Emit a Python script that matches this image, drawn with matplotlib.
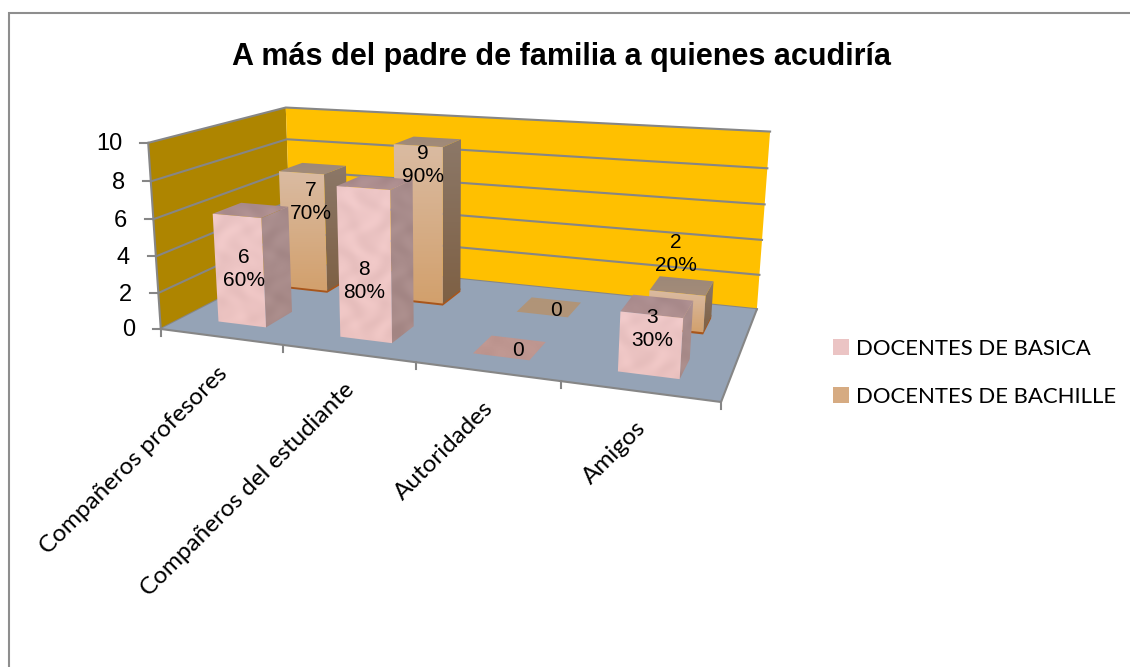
import numpy as np
import matplotlib
matplotlib.use("Agg")
import matplotlib.pyplot as plt
from matplotlib.patches import Polygon, Patch
from matplotlib.colors import to_rgb

categories = ["Compañeros profesores", "Compañeros del estudiante", "Autoridades", "Amigos"]
series_names = ["DOCENTES DE BASICA", "DOCENTES DE BACHILLE"]
basica = [6, 8, 0, 3]
bachille = [7, 9, 0, 2]
basica_pct = ["60%", "80%", None, "30%"]
bachille_pct = ["70%", "90%", None, "20%"]
value_ticks = [0, 2, 4, 6, 8, 10]
title = "A más del padre de familia a quienes acudiría"

W, H = 1130, 667
# camera calibration: (category, depth, value) -> figure pixel
cal_3d = [(0,0,0),(4,0,0),(0,2,0),(4,2,0),(0,0,10),(0,2,10),(4,2,10)]
cal_px = [(161,328),(721,403),(291,263),(757,308),(148,143),(286,107),(770,132)]

def fit_camera(P, p):
    A = []; b = []
    for (X,Y,Z),(u,v) in zip(P,p):
        A.append([X,Y,Z,1,0,0,0,0,-u*X,-u*Y,-u*Z]); b.append(u)
        A.append([0,0,0,0,X,Y,Z,1,-v*X,-v*Y,-v*Z]); b.append(v)
    return np.append(np.linalg.lstsq(np.array(A,float),np.array(b,float),rcond=None)[0],1).reshape(3,4)
CAM = fit_camera(cal_3d, cal_px)

def proj(x, y, z):
    q = CAM @ np.array([x, y, z, 1.0])
    return q[0]/q[2], q[1]/q[2]

fig = plt.figure(figsize=(W/100, H/100), dpi=100)
ax = fig.add_axes([0,0,1,1])
ax.set_xlim(0, W); ax.set_ylim(H, 0); ax.axis("off")

# outer frame (only its top and left edges fall inside the picture)
ax.plot([9, 9, W], [H, 13, 13], color="#8E8E8E", lw=1.5, solid_joinstyle="miter")

GRID = "#868686"
def poly(pts, fc, z=1, **kw):
    p = Polygon([proj(*a) for a in pts], closed=True, fc=fc, ec=kw.pop("ec","none"), lw=kw.pop("lw",0), zorder=z, **kw)
    ax.add_patch(p); return p

# walls and floor
poly([(0,0,0),(0,2,0),(0,2,10),(0,0,10)], "#AE8500")
poly([(0,2,0),(4,2,0),(4,2,10),(0,2,10)], "#FFC000")
for v in value_ticks:
    a, b, c = proj(0,0,v), proj(0,2,v), proj(4,2,v)
    ax.plot([a[0],b[0],c[0]],[a[1],b[1],c[1]], color=GRID, lw=1.5, zorder=2, solid_joinstyle="miter")
ax.plot(*zip(proj(0,0,0),proj(0,0,10)), color=GRID, lw=1.5, zorder=2)
poly([(0,0,0),(4,0,0),(4,2,0),(0,2,0)], "#95A3B6", z=3)
ax.plot(*zip(proj(0,0,0),proj(4,0,0),proj(4,2,0)), color=GRID, lw=1.5, zorder=3)

# axis ticks
for v in value_ticks:
    x, y = proj(0,0,v)
    ax.plot([x-8, x],[y, y], color=GRID, lw=1.5, zorder=3)
    ax.text(x-26, y+1.5, str(v), ha="right", va="center", family="Liberation Sans", fontsize=17, zorder=9)
for i in range(5):
    x, y = proj(i,0,0)
    ax.plot([x, x],[y, y+7], color=GRID, lw=1.5, zorder=3)
for i, c in enumerate(categories):
    x, y = proj(i+0.5,0,0)
    ax.text(x-4, y+26, c, rotation=45, rotation_mode="anchor", ha="right", va="top", family="Lato", fontsize=17.5, zorder=9)

def shade(pts, top, bottom, z, tex=0.0):
    pp = np.array([proj(*a) for a in pts])
    x0,y0 = np.floor(pp.min(0)); x1,y1 = np.ceil(pp.max(0))
    nx, ny = int(max(x1-x0,1)), int(max(y1-y0,1))
    yy, xx = np.mgrid[0:ny,0:nx]
    t = (yy+0.5)/ny
    c = np.array(to_rgb(top))[None,None,:]*(1-t[...,None]) + np.array(to_rgb(bottom))[None,None,:]*t[...,None]
    if tex:
        X = xx + x0; Y = yy + y0
        n = (np.sin(X/5.1+np.sin(Y/7.3)*2.5)+np.sin(Y/6.3+np.sin(X/8.7)*2.5))/2
        c = np.clip(c+tex*n[...,None],0,1)
    im = ax.imshow(c, extent=(x0,x1,y1,y0), zorder=z, aspect="auto", interpolation="bilinear")
    im.set_clip_path(Polygon(pp, closed=True, transform=ax.transData))
    ax.set_xlim(0, W); ax.set_ylim(H, 0)

BW = 0.4
def bar(i, s, val, z, kind):
    x0, x1 = i+0.5-BW/2, i+0.5+BW/2
    y0, y1 = s+0.5-BW/2, s+0.5+BW/2
    if kind == 0:
        front=("#EDC6C6","#EBC2C0",0.02); side=("#A88C8C","#A88A88",0.02); topc=("#A88A8C","#B09090",0.02)
    else:
        front=("#DABBA2","#D2A06C",0.0); side=("#8C7868","#7E6044",0.0); topc=("#9C8878","#A48C78",0.0)
    if val == 0:
        c = ("#BE9690","#BE9690",0.01) if kind==0 else ("#B09478","#B09478",0.0)
        shade([(x0,y0,0),(x1,y0,0),(x1,y1,0),(x0,y1,0)], *c[:2], z, c[2])
        return
    if kind == 1:
        poly([(x0,y0,-0.12),(x1,y0,-0.12),(x1,y1,-0.12),(x1,y1,0.1),(x1,y0,0.1),(x0,y0,0.1)], "#A8561C", z=z)
    shade([(x1,y0,0),(x1,y1,0),(x1,y1,val),(x1,y0,val)], *side[:2], z+0.1, side[2])
    shade([(x0,y0,val),(x1,y0,val),(x1,y1,val),(x0,y1,val)], *topc[:2], z+0.2, topc[2])
    shade([(x0,y0,0),(x1,y0,0),(x1,y0,val),(x0,y0,val)], *front[:2], z+0.3, front[2])

z = 4
for i, v in enumerate(bachille):
    bar(i, 1, v, z, 1); z += 1
for i, v in enumerate(basica):
    bar(i, 0, v, z, 0); z += 1

# data labels
label_pos_basica = [(244,269),(364,281),(518,351),(652,329)]
label_pos_bachille = [(311,202),(423,165),(556,311),(676,254)]
for vals, pcts, pos in [(basica,basica_pct,label_pos_basica),(bachille,bachille_pct,label_pos_bachille)]:
    for v,pc,(x,y) in zip(vals,pcts,pos):
        s = f"{v}\n{pc}" if pc else str(v)
        ax.text(x, y, s, ha="center", va="center", family="Liberation Sans", fontsize=15, linespacing=1.3, zorder=50)

ax.text(561, 57, title, ha="center", va="center", family="Liberation Sans", weight="bold", fontsize=22, zorder=50)

h = [Patch(fc="#EBC4C4", ec="none"), Patch(fc="#D6AB82", ec="none")]
leg = ax.legend(h, series_names, loc="upper left", bbox_to_anchor=(833/W, 1-339/H), frameon=False,
                prop={"family":"Lato","size":15.9}, handlelength=0.727, handleheight=0.727, labelspacing=1.27,
                handletextpad=0.32, borderpad=0, borderaxespad=0)
fig.savefig("out.png", dpi=100)
